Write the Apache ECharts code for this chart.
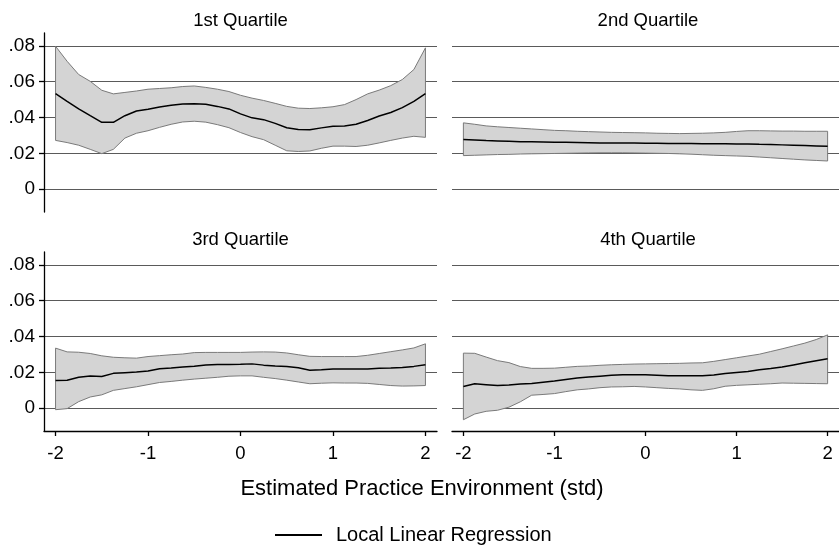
<!DOCTYPE html>
<html><head><meta charset="utf-8">
<script src="https://cdn.jsdelivr.net/npm/echarts@6/dist/echarts.min.js"></script>
<style>html,body{margin:0;padding:0;background:#fff}#c{width:839px;height:550px}</style>
</head><body><div id="c"></div>
<script>
const xs = [-2,-1.875,-1.75,-1.625,-1.5,-1.375,-1.25,-1.125,-1,-0.875,-0.75,-0.625,-0.5,-0.375,-0.25,-0.125,0,0.125,0.25,0.375,0.5,0.625,0.75,0.875,1,1.125,1.25,1.375,1.5,1.625,1.75,1.875,2];

const q1Mid = [0.0533,0.049,0.0448,0.041,0.0373,0.0373,0.041,0.0436,0.0446,0.0459,0.0468,0.0476,0.0477,0.0474,0.0462,0.0448,0.042,0.0398,0.0388,0.0367,0.0343,0.0333,0.0332,0.0342,0.0351,0.0353,0.0362,0.0383,0.0408,0.0428,0.0455,0.049,0.0533];
const q1Hi = [0.0798,0.0714,0.064,0.0602,0.0552,0.0532,0.054,0.0548,0.0558,0.0562,0.0566,0.0573,0.0576,0.0568,0.0558,0.0545,0.0524,0.0508,0.0495,0.0479,0.0462,0.0452,0.045,0.0454,0.046,0.0472,0.05,0.0532,0.0553,0.0578,0.0612,0.0668,0.0789];
const q1Lo = [0.0272,0.026,0.0245,0.0222,0.0198,0.0222,0.0285,0.0312,0.0326,0.0345,0.0362,0.0375,0.0379,0.0374,0.036,0.0343,0.0316,0.0293,0.0276,0.0245,0.0214,0.021,0.0213,0.0228,0.024,0.024,0.0238,0.0245,0.0258,0.0272,0.0285,0.0295,0.0289];

const q2Mid = [0.0277,0.0274,0.0271,0.0269,0.0267,0.0265,0.0264,0.0263,0.0262,0.0261,0.026,0.0259,0.0258,0.0258,0.0257,0.0257,0.0256,0.0256,0.0255,0.0254,0.0254,0.0253,0.0253,0.0253,0.0252,0.0252,0.025,0.0249,0.0247,0.0245,0.0243,0.0241,0.0239];
const q2Hi = [0.037,0.0362,0.0353,0.0348,0.0344,0.034,0.0336,0.0332,0.0328,0.0326,0.0323,0.0321,0.0319,0.0317,0.0316,0.0315,0.0314,0.0312,0.0311,0.031,0.0311,0.0312,0.0314,0.0317,0.0322,0.0326,0.0326,0.0325,0.0324,0.0324,0.0323,0.0323,0.0323];
const q2Lo = [0.0187,0.0189,0.0191,0.0193,0.0194,0.0196,0.0197,0.0198,0.0199,0.02,0.0201,0.0202,0.0203,0.0203,0.0203,0.0202,0.0201,0.02,0.0199,0.0197,0.0195,0.0192,0.0189,0.0187,0.0185,0.0183,0.0179,0.0175,0.0171,0.0167,0.0163,0.016,0.0157];

const q3Mid = [0.0154,0.0155,0.0172,0.0179,0.0177,0.0194,0.0198,0.0201,0.0207,0.022,0.0224,0.0229,0.0234,0.0241,0.0243,0.0244,0.0245,0.0247,0.024,0.0235,0.0233,0.0225,0.0212,0.0214,0.0218,0.0218,0.0218,0.0219,0.0222,0.0224,0.0227,0.0233,0.0242];
const q3Hi = [0.0335,0.0314,0.0312,0.0305,0.0292,0.0284,0.0281,0.0279,0.0288,0.0293,0.0298,0.0302,0.031,0.0311,0.0311,0.0311,0.0311,0.0313,0.0314,0.0313,0.0308,0.0298,0.0289,0.0288,0.0288,0.0288,0.0288,0.0295,0.0305,0.0315,0.0325,0.0336,0.0359];
const q3Lo = [-0.0009,-0.0003,0.0036,0.0062,0.0074,0.0099,0.0109,0.0119,0.0131,0.0143,0.0149,0.0156,0.0162,0.0167,0.0172,0.0178,0.018,0.018,0.0172,0.0165,0.0156,0.0146,0.0136,0.0139,0.0141,0.014,0.014,0.0138,0.0132,0.0126,0.0123,0.0124,0.0126];

const q4Mid = [0.0121,0.0136,0.0131,0.0126,0.0129,0.0134,0.0137,0.0145,0.0151,0.016,0.0168,0.0173,0.0178,0.0183,0.0186,0.0186,0.0186,0.0184,0.0181,0.018,0.018,0.018,0.0185,0.0193,0.0199,0.0205,0.0214,0.0221,0.0229,0.0241,0.0253,0.0265,0.0275];
const q4Hi = [0.0307,0.0306,0.0285,0.0265,0.0254,0.0232,0.0222,0.0222,0.0223,0.0228,0.0233,0.0235,0.0239,0.0242,0.0244,0.0246,0.0247,0.0248,0.0249,0.025,0.0252,0.0253,0.0261,0.0271,0.0281,0.0291,0.0301,0.0316,0.0331,0.0347,0.0363,0.0383,0.0409];
const q4Lo = [-0.0065,-0.0033,-0.0018,-0.0012,0.0005,0.0035,0.0072,0.0076,0.0081,0.0092,0.0102,0.0107,0.0114,0.0118,0.0119,0.0121,0.0118,0.0114,0.011,0.0107,0.0102,0.0099,0.0108,0.0122,0.0127,0.013,0.0133,0.0136,0.014,0.0139,0.0138,0.0137,0.0136];

const panelTitles = ['1st Quartile', '2nd Quartile', '3rd Quartile', '4th Quartile'];
const yTicks = [0, 0.02, 0.04, 0.06, 0.08];
const xTicks = [-2, -1, 0, 1, 2];
const xTitle = 'Estimated Practice Environment (std)';
const legendName = 'Local Linear Regression';

const panels = [
  {mid: q1Mid, hi: q1Hi, lo: q1Lo},
  {mid: q2Mid, hi: q2Hi, lo: q2Lo},
  {mid: q3Mid, hi: q3Hi, lo: q3Lo},
  {mid: q4Mid, hi: q4Hi, lo: q4Lo}
];

const FONT = 'Liberation Sans, Arial, sans-serif';
const gridPos = [
  {left: 44, top: 33, width: 393, height: 179},
  {left: 452, top: 33, width: 392, height: 179},
  {left: 44, top: 252, width: 393, height: 179},
  {left: 452, top: 252, width: 392, height: 179}
];
const titlePos = [[240.5, 21], [648, 21], [240.5, 240], [648, 240]];

const grid = [], xAxis = [], yAxis = [], series = [], graphic = [];
panels.forEach((p, i) => {
  const isLeft = i % 2 === 0;
  const isBottom = i >= 2;
  grid.push(Object.assign({containLabel: false}, gridPos[i]));
  xAxis.push({
    type: 'value', gridIndex: i, min: -2.125, max: 2.125,
    axisLine: {show: isBottom, onZero: false, lineStyle: {color: '#000', width: 1.3}},
    axisTick: {show: isBottom, customValues: xTicks, length: 5, lineStyle: {color: '#000', width: 1.3}},
    axisLabel: {show: isBottom, customValues: xTicks, fontSize: 18.5, color: '#000', fontFamily: FONT, margin: 13},
    splitLine: {show: false}
  });
  yAxis.push({
    type: 'value', gridIndex: i, min: -0.0128, max: 0.0872,
    axisLine: {show: isLeft, onZero: false, lineStyle: {color: '#000', width: 1.3}},
    axisTick: {show: isLeft, customValues: yTicks, length: 5, lineStyle: {color: '#000', width: 1.3}},
    axisLabel: {show: isLeft, customValues: yTicks, fontSize: 19, color: '#000', fontFamily: FONT, margin: 9,
      formatter: v => v === 0 ? '0' : v.toFixed(2).replace(/^0/, '')},
    splitLine: {show: true, lineStyle: {color: '#5a5a5a', width: 1}}
  });
  const bandData = xs.map((x, k) => [x, p.lo[k], p.hi[k]]);
  series.push({
    type: 'custom', name: 'band' + i, xAxisIndex: i, yAxisIndex: i, silent: true, z: 2,
    encode: {x: 0, y: [1, 2]},
    data: bandData,
    renderItem: (params, api) => {
      if (params.dataIndex !== 0) return null;
      const top = bandData.map(d => api.coord([d[0], d[2]]));
      const bot = bandData.map(d => api.coord([d[0], d[1]])).reverse();
      return {type: 'polygon', shape: {points: top.concat(bot)},
        style: {fill: '#d4d4d4', stroke: '#7a7a7a', lineWidth: 1}};
    }
  });
  series.push({
    type: 'line', name: legendName, xAxisIndex: i, yAxisIndex: i, z: 3,
    data: xs.map((x, k) => [x, p.mid[k]]),
    symbol: 'none', showSymbol: false,
    lineStyle: {color: '#000', width: 1.5}, itemStyle: {color: '#000'}
  });
  graphic.push({type: 'text', x: titlePos[i][0], y: titlePos[i][1],
    style: {text: panelTitles[i], fill: '#000', font: '18.5px ' + FONT, textAlign: 'center', textVerticalAlign: 'middle'}});
});
graphic.push({type: 'text', x: 422, y: 489,
  style: {text: xTitle, fill: '#000', font: '22px ' + FONT, textAlign: 'center', textVerticalAlign: 'middle'}});

const chart = echarts.init(document.getElementById('c'), null, {renderer: 'canvas'});
chart.setOption({
  animation: false,
  backgroundColor: '#fff',
  grid, xAxis, yAxis, series, graphic,
  legend: {
    data: [legendName], left: 270, top: 520, icon: 'rect', itemWidth: 47, itemHeight: 2,
    textStyle: {fontSize: 20, color: '#000', fontFamily: FONT, padding: [0, 0, 0, 9]}
  }
});
</script></body></html>
